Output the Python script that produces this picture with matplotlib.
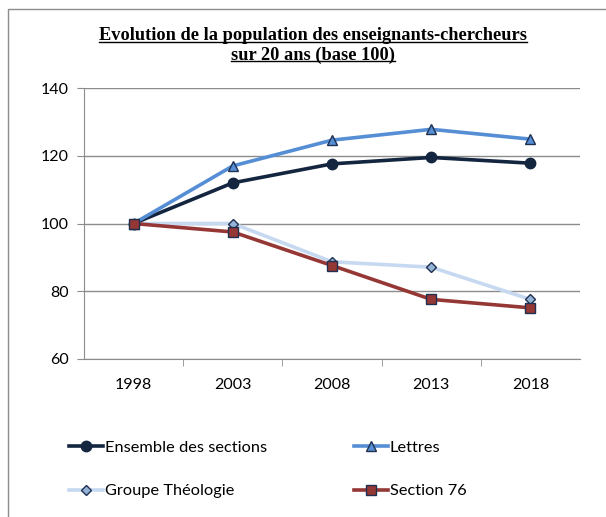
import matplotlib
matplotlib.use("Agg")
import matplotlib.pyplot as plt
from matplotlib.patches import Rectangle

years = ["1998", "2003", "2008", "2013", "2018"]
ensemble = [100, 112.0, 117.6, 119.5, 117.8]
lettres = [100, 117.0, 124.6, 127.8, 124.9]
theologie = [100, 100.0, 88.7, 87.1, 77.6]
section76 = [100, 97.5, 87.6, 77.6, 75.1]
yticks = [60, 80, 100, 120, 140]

W, H = 606, 517
fig = plt.figure(figsize=(W / 100, H / 100), dpi=100)
fig.patches.append(Rectangle((8 / W, -0.1), 1.2, 1 - 9 / H + 0.1, transform=fig.transFigure,
                             fill=False, edgecolor="#8c8c8c", linewidth=1.0))

ax = fig.add_axes([84 / W, 1 - 359 / H, (580 - 84) / W, (359 - 88) / H])
x = list(range(len(years)))
edge = "#1F3050"
l1, = ax.plot(x, ensemble, color="#14253F", lw=2.6, marker="o", ms=7.5, mfc="#14253F", mec="#14253F",
              label="Ensemble des sections", zorder=4)
l2, = ax.plot(x, lettres, color="#558ED5", lw=2.6, marker="^", ms=7.5, mfc="#558ED5", mec=edge, mew=1,
              label="Lettres", zorder=4)
l3, = ax.plot(x, theologie, color="#C6D9F1", lw=2.6, marker="D", ms=5.5, mfc="#95B3D7", mec=edge, mew=1,
              label="Groupe Théologie", zorder=3)
l4, = ax.plot(x, section76, color="#953735", lw=2.6, marker="s", ms=7.5, mfc="#953735", mec=edge, mew=1,
              label="Section 76", zorder=5)

ax.set_xlim(-0.5, 4.5)
ax.set_ylim(60, 140)
ax.set_yticks(yticks)
ax.set_xticks(x)
ax.set_xticklabels(years)
ax.set_xticks([0.5, 1.5, 2.5, 3.5], minor=True)
ax.tick_params(axis="x", which="major", length=0, pad=14)
ax.tick_params(axis="x", which="minor", length=5, color="#8c8c8c")
ax.tick_params(axis="y", length=5, color="#8c8c8c", pad=6)
ax.tick_params(labelsize=11.5)
for lab in ax.get_xticklabels() + ax.get_yticklabels():
    lab.set_fontfamily("Lato")
ax.yaxis.grid(True, color="#8c8c8c", lw=1)
ax.set_axisbelow(True)
for s in ["top", "right"]:
    ax.spines[s].set_visible(False)
for s in ["left", "bottom"]:
    ax.spines[s].set_color("#8c8c8c")

t1 = fig.text(313 / W, 1 - 36 / H, "Evolution de la population des enseignants-chercheurs",
              ha="center", va="center", fontsize=13.2, fontweight="bold", family="Liberation Serif")
t2 = fig.text(313 / W, 1 - 55 / H, "sur 20 ans (base 100)",
              ha="center", va="center", fontsize=13.2, fontweight="bold", family="Liberation Serif")
fig.canvas.draw()
r = fig.canvas.get_renderer()
for t, uy in [(t1, 42), (t2, 61)]:
    bb = t.get_window_extent(r)
    fig.lines.append(plt.Line2D([bb.x0 / W, bb.x1 / W], [1 - uy / H, 1 - uy / H],
                                transform=fig.transFigure, color="black", lw=1))

fig.legend([l1, l3, l2, l4], [l1.get_label(), l3.get_label(), l2.get_label(), l4.get_label()],
           loc="upper left", bbox_to_anchor=(54 / W, 1 - 426 / H), ncol=2, frameon=False,
           prop={"family": "Lato", "size": 11.8}, handlelength=2.1, handletextpad=0.1,
           columnspacing=5.3, labelspacing=1.75)

fig.savefig("out.png", dpi=100)
